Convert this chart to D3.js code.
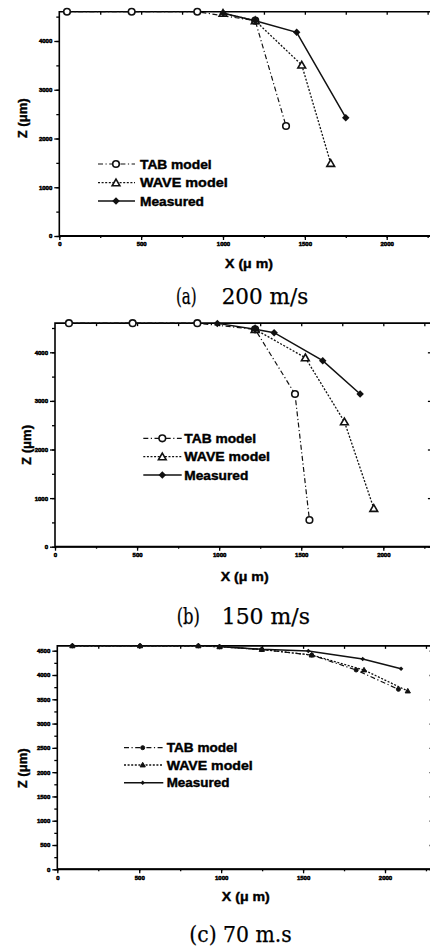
<!DOCTYPE html>
<html>
<head>
<meta charset="utf-8">
<script src="https://cdn.jsdelivr.net/npm/d3@7"></script>
<style>
body { margin: 0; background: #fff; }
svg { display: block; }
</style>
</head>
<body>
<div id="chart"></div>
<script>
// values, X and Z in µm
const seriesNames = ["TAB model", "WAVE model", "Measured"]
const xTicks = [0, 500, 1000, 1500, 2000]
const zTicksAB = [0, 1000, 2000, 3000, 4000]
const zTicksC = [0, 500, 1000, 1500, 2000, 2500, 3000, 3500, 4000, 4500]

// (a) 200 m/s
const tabA = [[47, 4600], [442, 4600], [843, 4600], [1197, 4416], [1385, 2256]]
const waveA = [[1000, 4570], [1197, 4416], [1481, 3508], [1658, 1491]]
const measA = [[1002, 4568], [1197, 4416], [1450, 4178], [1750, 2427]]

// (b) 150 m/s
const tabB = [[85, 4600], [473, 4600], [867, 4600], [1219, 4473], [1462, 3142], [1550, 549]]
const waveB = [[1219, 4473], [1525, 3889], [1763, 2572], [1942, 790]]
const measB = [[989, 4595], [1219, 4473], [1335, 4403], [1631, 3827], [1859, 3142]]

// (c) 70 m.s
const tabC = [[92, 4600], [505, 4600], [861, 4600], [990, 4580], [1248, 4525], [1553, 4411], [1824, 4103], [2082, 3705]]
const waveC = [[92, 4600], [505, 4600], [861, 4600], [990, 4580], [1248, 4525], [1553, 4411], [1872, 4103], [2139, 3670]]
const measC = [[990, 4585], [1248, 4530], [1532, 4494], [1864, 4329], [2098, 4129]]

const captions = [["(a)", "200 m/s"], ["(b)", "150 m/s"], ["(c) 70 m.s"]]

const W = 430, H = 949
const svg = d3.select("#chart").append("svg")
    .attr("width", W).attr("height", H)
    .style("background", "#fff")

// where each panel sits on the page
const panels = [
    {series: [tabA, waveA, measA], zTicks: zTicksAB, zMinor: 500,
     left: 59.3, x2000: 386.7, bottom: 236, z4000: 41, big: true,
     legX: [98, 135, 116], legText: 140, legY: [164, 182.7, 201], legLen: [71.7, 87.7, 64],
     zLab: [23.3, 118.3], xLab: [249, 268], cap: [[176, 196.7], [221.7, 308.3]], capY: 304},
    {series: [tabB, waveB, measB], zTicks: zTicksAB, zMinor: 500,
     left: 55, x2000: 383.3, bottom: 546.7, z4000: 352.3, big: true,
     legX: [143.3, 181.7, 162.3], legText: 184.3, legY: [438.3, 456.7, 475], legLen: [71.7, 85.7, 64],
     zLab: [27.3, 445], xLab: [244.7, 581], cap: [[176.7, 200], [221.7, 310]], capY: 624},
    {series: [tabC, waveC, measC], zTicks: zTicksC, zMinor: 250,
     left: 57.3, x2000: 385, bottom: 869.3, z4000: 675, big: false,
     legX: [124, 163.3, 142.7], legText: 166.7, legY: [747.7, 765, 782.7], legLen: [70.7, 86, 62.7],
     zLab: [23.3, 768.3], xLab: [245.8, 900.5], cap: [[189.3, 291.7]], capY: 941.7}
]

const dashes = ["5,2.5,1.2,2.5", "2,1.6", null]
const widths = [1.2, 1.3, 1.5]
const sans = "Liberation Sans, Arial, sans-serif"

function marker(g, i, big, cx, cy) {
    if (i === 0) {
        g.append("circle").attr("cx", cx).attr("cy", cy)
            .attr("r", big ? 3.3 : 2)
            .attr("fill", big ? "#fff" : "#111")
            .attr("stroke", "#111").attr("stroke-width", big ? 1.6 : 1)
    } else if (i === 1) {
        g.append("path")
            .attr("d", d3.symbol(d3.symbolTriangle, big ? 26 : 12)())
            .attr("transform", `translate(${cx},${cy + (big ? 0.8 : 0.4)})`)
            .attr("fill", big ? "#fff" : "#111")
            .attr("stroke", "#111").attr("stroke-width", big ? 1.6 : 1)
    } else {
        g.append("path")
            .attr("d", d3.symbol(d3.symbolSquare, big ? 28 : 10)())
            .attr("transform", `translate(${cx},${cy}) rotate(45)`)
            .attr("fill", "#111")
    }
}

panels.forEach(p => {
    const x = d3.scaleLinear().domain([0, 2000]).range([p.left, p.x2000])
    const y = d3.scaleLinear().domain([0, 4000]).range([p.bottom, p.z4000])
    const xEnd = x(2290), yTop = y(4600)
    const g = svg.append("g")

    // minor ticks first
    g.append("g").attr("transform", `translate(${p.left},0)`)
        .call(d3.axisLeft(y).tickValues(d3.range(0, 4600, p.zMinor)).tickSize(3).tickFormat(""))
    g.append("g").attr("transform", `translate(0,${p.bottom})`)
        .call(d3.axisBottom(x).tickValues(d3.range(0, 2290, 250)).tickSize(2).tickFormat(""))
    g.append("g").attr("transform", `translate(0,${yTop})`)
        .call(d3.axisTop(x).tickValues(d3.range(250, 2290, 250)).tickSize(-3).tickFormat(""))
    g.append("g").attr("transform", `translate(${xEnd},0)`)
        .call(d3.axisRight(y).tickValues(p.zTicks).tickSize(-3).tickFormat(""))

    const yAxis = g.append("g").attr("transform", `translate(${p.left},0)`)
        .call(d3.axisLeft(y).tickValues(p.zTicks).tickSize(5).tickPadding(2).tickFormat(d3.format("d")))
    const xAxis = g.append("g").attr("transform", `translate(0,${p.bottom})`)
        .call(d3.axisBottom(x).tickValues(xTicks).tickSize(4).tickPadding(2).tickFormat(d3.format("d")))
    ;[yAxis, xAxis].forEach(a => {
        a.selectAll("text").attr("font-family", sans)
            .attr("font-size", 6).attr("font-weight", "bold").attr("fill", "#000")
            .attr("stroke", "#000").attr("stroke-width", 0.5)
    })
    g.selectAll(".tick line").attr("stroke", "#000").attr("stroke-width", 1.3)
    g.selectAll(".domain").remove()

    // frame
    g.append("path")
        .attr("d", `M${p.left},${yTop}H${xEnd}V${p.bottom}H${p.left}Z`)
        .attr("fill", "none").attr("stroke", "#000").attr("stroke-width", 1.6)
    g.append("line").attr("x1", p.left).attr("x2", xEnd)
        .attr("y1", p.bottom).attr("y2", p.bottom)
        .attr("stroke", "#000").attr("stroke-width", 2)

    const line = d3.line().x(d => x(d[0])).y(d => y(d[1]))
    p.series.forEach((s, i) => {
        g.append("path").datum(s).attr("d", line)
            .attr("fill", "none").attr("stroke", "#111")
            .attr("stroke-width", widths[i])
            .attr("stroke-dasharray", dashes[i])
        s.forEach(d => marker(g, i, p.big, x(d[0]), y(d[1])))
    })

    // legend
    seriesNames.forEach((name, i) => {
        const ly = p.legY[i]
        g.append("line").attr("x1", p.legX[0]).attr("x2", p.legX[1])
            .attr("y1", ly).attr("y2", ly)
            .attr("stroke", "#111").attr("stroke-width", widths[i])
            .attr("stroke-dasharray", dashes[i])
        marker(g, i, p.big, p.legX[2], ly)
        g.append("text").attr("x", p.legText).attr("y", ly + 4.5)
            .attr("font-family", sans)
            .attr("font-size", 12.5).attr("font-weight", "bold")
            .attr("stroke", "#000").attr("stroke-width", 0.4)
            .attr("textLength", p.legLen[i]).attr("lengthAdjust", "spacingAndGlyphs")
            .text(name)
    })

    // axis titles
    g.append("text")
        .attr("transform", `translate(${p.zLab[0] + 4},${p.zLab[1]}) rotate(-90)`)
        .attr("text-anchor", "middle")
        .attr("font-family", sans)
        .attr("font-size", 12.5).attr("font-weight", "bold")
        .attr("stroke", "#000").attr("stroke-width", 0.4)
        .attr("textLength", 40).attr("lengthAdjust", "spacingAndGlyphs")
        .text("Z (μm)")
    g.append("text")
        .attr("x", p.xLab[0]).attr("y", p.xLab[1])
        .attr("text-anchor", "middle")
        .attr("font-family", sans)
        .attr("font-size", 13).attr("font-weight", "bold")
        .attr("stroke", "#000").attr("stroke-width", 0.4)
        .attr("textLength", 48).attr("lengthAdjust", "spacingAndGlyphs")
        .text("X (μ m)")
})

// captions under each panel
captions.forEach((parts, k) => {
    const p = panels[k]
    parts.forEach((t, j) => {
        svg.append("text")
            .attr("x", p.cap[j][0]).attr("y", p.capY)
            .attr("font-family", "DejaVu Serif, Liberation Serif, serif")
            .attr("font-size", 22)
            .attr("stroke", "#000").attr("stroke-width", 0.25)
            .attr("textLength", p.cap[j][1] - p.cap[j][0])
            .attr("lengthAdjust", "spacingAndGlyphs")
            .text(t)
    })
})
</script>
</body>
</html>
